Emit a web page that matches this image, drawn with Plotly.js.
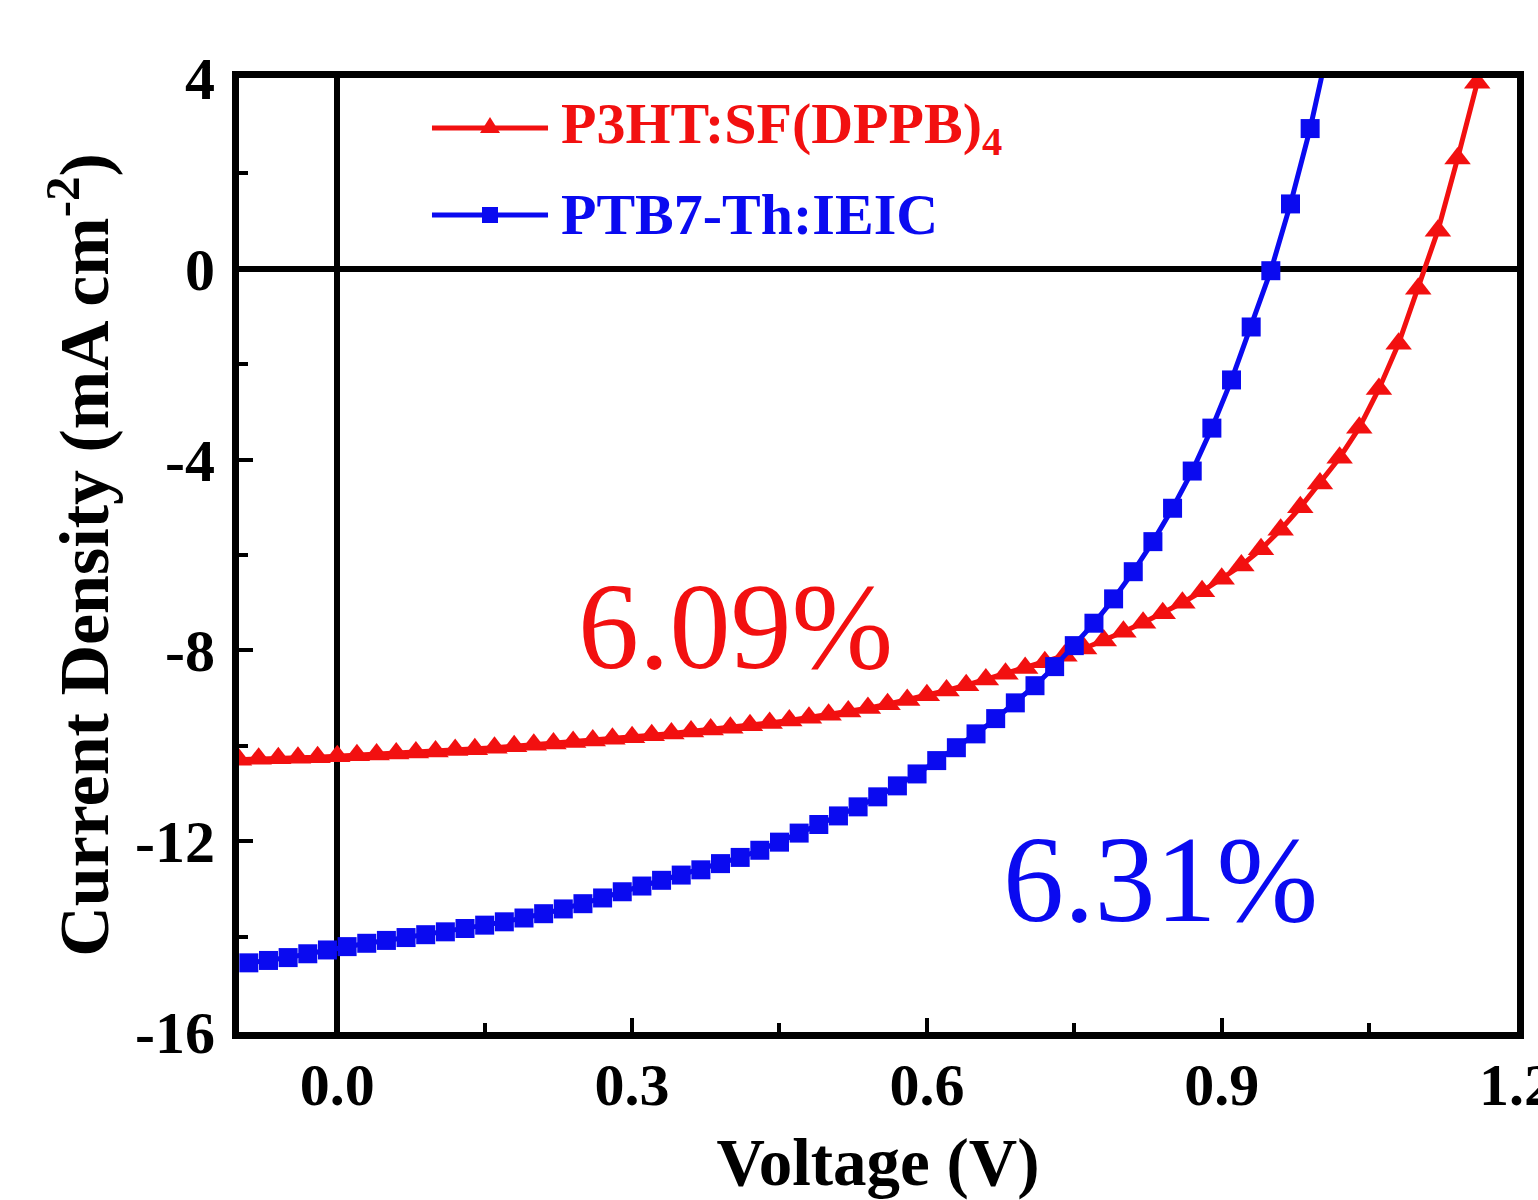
<!DOCTYPE html>
<html>
<head>
<meta charset="utf-8">
<script src="https://cdn.plot.ly/plotly-3.0.1.min.js"></script>
<style>html,body{margin:0;padding:0;background:#fff;}#chart{width:1538px;height:1200px;}</style>
</head>
<body>
<div id="chart"></div>
<script>
// P3HT:SF(DPPB)4 (red, triangles)
var redV = [-0.10,-0.08,-0.06,-0.04,-0.02,0.00,0.02,0.04,0.06,0.08,0.10,0.12,0.14,0.16,0.18,0.20,0.22,0.24,0.26,0.28,0.30,0.32,0.34,0.36,0.38,0.40,0.42,0.44,0.46,0.48,0.50,0.52,0.54,0.56,0.58,0.60,0.62,0.64,0.66,0.68,0.70,0.72,0.74,0.76,0.78,0.80,0.82,0.84,0.86,0.88,0.90,0.92,0.94,0.96,0.98,1.00,1.02,1.04,1.06,1.08,1.10,1.12,1.14,1.16];
var redJ = [-10.29,-10.27,-10.26,-10.25,-10.24,-10.22,-10.20,-10.18,-10.16,-10.14,-10.12,-10.09,-10.07,-10.04,-10.01,-9.98,-9.95,-9.92,-9.89,-9.85,-9.82,-9.78,-9.74,-9.70,-9.66,-9.62,-9.57,-9.52,-9.47,-9.41,-9.35,-9.28,-9.21,-9.13,-9.04,-8.94,-8.84,-8.73,-8.61,-8.49,-8.37,-8.25,-8.11,-7.96,-7.79,-7.61,-7.42,-7.22,-7.00,-6.76,-6.50,-6.22,-5.88,-5.47,-5.00,-4.50,-3.96,-3.33,-2.52,-1.57,-0.42,0.80,2.31,3.90];
// PTB7-Th:IEIC (blue, squares)
var blueV = [-0.09,-0.07,-0.05,-0.03,-0.01,0.01,0.03,0.05,0.07,0.09,0.11,0.13,0.15,0.17,0.19,0.21,0.23,0.25,0.27,0.29,0.31,0.33,0.35,0.37,0.39,0.41,0.43,0.45,0.47,0.49,0.51,0.53,0.55,0.57,0.59,0.61,0.63,0.65,0.67,0.69,0.71,0.73,0.75,0.77,0.79,0.81,0.83,0.85,0.87,0.89,0.91,0.93,0.95,0.97,0.99,1.01];
var blueJ = [-14.55,-14.50,-14.44,-14.36,-14.28,-14.21,-14.14,-14.08,-14.02,-13.96,-13.90,-13.83,-13.76,-13.69,-13.61,-13.52,-13.42,-13.31,-13.19,-13.06,-12.94,-12.82,-12.71,-12.60,-12.47,-12.34,-12.19,-12.02,-11.83,-11.65,-11.47,-11.28,-11.07,-10.84,-10.59,-10.31,-10.04,-9.75,-9.43,-9.10,-8.74,-8.34,-7.90,-7.43,-6.92,-6.35,-5.72,-5.02,-4.24,-3.34,-2.33,-1.22,-0.04,1.36,2.94,4.80];

var seriesNames = ["P3HT:SF(DPPB)<sub>4</sub>", "PTB7-Th:IEIC"];
var seriesColors = ["#f21010", "#0a0af0"];
var xTickVals = [0.0, 0.3, 0.6, 0.9, 1.2];
var xTickText = ["0.0", "0.3", "0.6", "0.9", "1.2"];
var yTickVals = [-16, -12, -8, -4, 0, 4];
var yTickText = ["-16", "-12", "-8", "-4", "0", "4"];
var pceLabels = ["6.09%", "6.31%"];

var FONT = "Liberation Serif, Times New Roman, serif";

var traces = [
  {x: redV, y: redJ, type: 'scatter', mode: 'lines+markers', name: seriesNames[0],
   line: {color: seriesColors[0], width: 5},
   marker: {symbol: 'triangle-up', size: 23, color: seriesColors[0]}, cliponaxis: true},
  {x: blueV, y: blueJ, type: 'scatter', mode: 'lines+markers', name: seriesNames[1],
   line: {color: seriesColors[1], width: 5},
   marker: {symbol: 'square', size: 19, color: seriesColors[1]}, cliponaxis: true}
];

var axisCommon = {
  showline: true, linecolor: '#000', linewidth: 7, mirror: true,
  showgrid: false, zeroline: true, zerolinecolor: '#000', zerolinewidth: 6,
  ticks: 'inside', ticklen: 14, tickwidth: 4, tickcolor: '#000',
  ticklabeloverflow: 'allow',
  tickfont: {family: FONT, size: 60, color: '#000', weight: 'bold'}
};

var layout = {
  width: 1538, height: 1200,
  margin: {l: 239, r: 21, t: 78, b: 168, pad: 0},
  paper_bgcolor: '#fff', plot_bgcolor: '#fff',
  showlegend: false,
  font: {family: FONT, color: '#000'},
  xaxis: Object.assign({}, axisCommon, {
    range: [-0.1, 1.2005], tickmode: 'array', tickvals: xTickVals, ticktext: xTickText,
    ticklabelstandoff: -6,
    minor: {tickmode: 'array', tickvals: [0.15, 0.45, 0.75, 1.05], ticks: 'inside', ticklen: 9, tickwidth: 4, tickcolor: '#000'},
    title: {text: 'Voltage (V)', font: {family: FONT, size: 67, color: '#000', weight: 'bold'}, standoff: 24}
  }),
  yaxis: Object.assign({}, axisCommon, {
    range: [-16, 4], tickmode: 'array', tickvals: yTickVals, ticktext: yTickText,
    ticklabelstandoff: 5,
    minor: {tickmode: 'array', tickvals: [-14, -10, -6, -2, 2], ticks: 'inside', ticklen: 9, tickwidth: 4, tickcolor: '#000'},
    title: {text: 'Current Density (mA cm<sup>-2</sup>)', font: {family: FONT, size: 70, color: '#000', weight: 'bold'}, standoff: 6}
  }),
  shapes: [
    {type: 'line', xref: 'paper', yref: 'paper', x0: 0.151, x1: 0.2418, y0: 0.9476, y1: 0.9476, line: {color: seriesColors[0], width: 5}},
    {type: 'line', xref: 'paper', yref: 'paper', x0: 0.151, x1: 0.2418, y0: 0.8564, y1: 0.8564, line: {color: seriesColors[1], width: 5}},
    {type: 'path', xref: 'paper', yref: 'paper', xsizemode: 'pixel', ysizemode: 'pixel', xanchor: 0.1964, yanchor: 0.9476,
     path: 'M-10,-5 L10,-5 L0,11 Z', fillcolor: seriesColors[0], line: {width: 0}},
    {type: 'path', xref: 'paper', yref: 'paper', xsizemode: 'pixel', ysizemode: 'pixel', xanchor: 0.1964, yanchor: 0.8564,
     path: 'M-8,-8 L8,-8 L8,8 L-8,8 Z', fillcolor: seriesColors[1], line: {width: 0}}
  ],
  annotations: [
    {xref: 'paper', yref: 'paper', x: 0.2504, y: 0.9476, xanchor: 'left', yanchor: 'middle', showarrow: false,
     text: seriesNames[0], font: {family: FONT, size: 58, color: seriesColors[0], weight: 'bold'}},
    {xref: 'paper', yref: 'paper', x: 0.2504, y: 0.8564, xanchor: 'left', yanchor: 'middle', showarrow: false,
     text: seriesNames[1], font: {family: FONT, size: 58, color: seriesColors[1], weight: 'bold'}},
    {xref: 'x', yref: 'y', x: 0.405, y: -7.5, xanchor: 'center', yanchor: 'middle', showarrow: false,
     text: pceLabels[0], font: {family: FONT, size: 122, color: seriesColors[0]}},
    {xref: 'x', yref: 'y', x: 0.838, y: -12.8, xanchor: 'center', yanchor: 'middle', showarrow: false,
     text: pceLabels[1], font: {family: FONT, size: 122, color: seriesColors[1]}}
  ]
};

Plotly.newPlot('chart', traces, layout, {displayModeBar: false, staticPlot: true});
</script>
</body>
</html>
